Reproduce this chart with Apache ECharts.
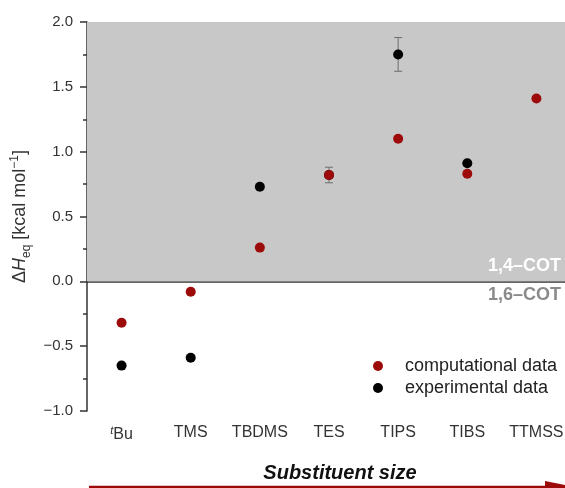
<!DOCTYPE html>
<html>
<head>
<meta charset="utf-8">
<script src="https://cdn.jsdelivr.net/npm/echarts@6/dist/echarts.min.js"></script>
<style>
  html, body { margin: 0; padding: 0; background: #fff; }
  #chart { width: 565px; height: 488px; }
</style>
</head>
<body>
<div id="chart"></div>
<script>
// Substituents, ordered by increasing size
const substituents = ['tBu', 'TMS', 'TBDMS', 'TES', 'TIPS', 'TIBS', 'TTMSS'];
// Equilibrium enthalpy ΔH_eq in kcal/mol
const computational = [-0.32, -0.08, 0.26, 0.82, 1.10, 0.83, 1.41];
const experimental = [-0.65, -0.59, 0.73, 0.82, 1.75, 0.91, null];
// Experimental uncertainties (only where reported)
const experimentalError = [null, null, null, 0.06, 0.13, null, null];
const yTicks = [-1.0, -0.5, 0.0, 0.5, 1.0, 1.5, 2.0];

const FONT = '"Liberation Sans", Arial, Helvetica, sans-serif';
const RED = '#9c0a0a';
const GREY = '#c8c8c8';

const chart = echarts.init(document.getElementById('chart'));

const errorData = [];
experimental.forEach((v, i) => {
  if (v != null && experimentalError[i] != null) {
    errorData.push([i, v - experimentalError[i], v + experimentalError[i]]);
  }
});

chart.setOption({
  animation: false,
  textStyle: { fontFamily: FONT },
  grid: { left: 87, top: 22, bottom: 77, width: 484, outerBoundsMode: 'none', containLabel: false },
  xAxis: {
    type: 'category',
    data: substituents,
    boundaryGap: true,
    axisLine: { lineStyle: { color: '#333', width: 1.5 } },
    axisTick: { alignWithLabel: true, length: 6, lineStyle: { color: '#333', width: 1.5 } },
    axisLabel: {
      interval: 0,
      color: '#333', fontSize: 16, margin: 14,
      formatter: v => v === 'tBu' ? '{sup|t}{n|Bu}' : v,
      rich: {
        sup: { fontSize: 11, fontStyle: 'italic', verticalAlign: 'top', lineHeight: 18, color: '#333' },
        n: { fontSize: 16, verticalAlign: 'bottom', lineHeight: 18, color: '#333' }
      }
    },
    splitLine: { show: false }
  },
  yAxis: {
    type: 'value',
    min: yTicks[0],
    max: yTicks[yTicks.length - 1],
    interval: 0.5,
    axisLine: { show: true, lineStyle: { color: '#333', width: 1.5 } },
    axisTick: { show: true, length: 7, lineStyle: { color: '#333', width: 1.5 } },
    minorTick: { show: true, splitNumber: 2, length: 4, lineStyle: { color: '#333', width: 1.5 } },
    axisLabel: {
      color: '#333', fontSize: 15, margin: 14,
      formatter: v => v.toFixed(1).replace('-', '\u2212')
    },
    splitLine: { show: false },
    name: '{d|\u0394}{h|H}{sub|eq}{d| [kcal mol}{sup|\u22121}{d|]}',
    nameLocation: 'middle',
    nameGap: 54,
    nameRotate: 90,
    nameTextStyle: {
      rich: {
        d: { fontSize: 18, color: '#333', lineHeight: 24, verticalAlign: 'middle' },
        h: { fontSize: 18, color: '#333', fontStyle: 'italic', lineHeight: 24, verticalAlign: 'middle' },
        sub: { fontSize: 12, color: '#333', lineHeight: 24, verticalAlign: 'bottom' },
        sup: { fontSize: 12, color: '#333', lineHeight: 24, verticalAlign: 'top' }
      }
    }
  },
  legend: {
    orient: 'vertical',
    left: 368,
    top: 352,
    itemWidth: 10,
    itemHeight: 10,
    itemGap: 4,
    data: [
      { name: 'computational data', icon: 'circle' },
      { name: 'experimental data', icon: 'circle' }
    ],
    textStyle: { fontSize: 18, color: '#222', padding: [0, 0, 0, 17] }
  },
  series: [
    {
      // Shaded region for the 1,4-COT preferred range; label for 1,6-COT below zero
      type: 'line',
      data: [],
      silent: true,
      markArea: {
        silent: true,
        data: [
          [
            { yAxis: 0, itemStyle: { color: GREY },
              label: { show: true, position: 'insideBottomRight', color: '#fff', fontSize: 18, fontWeight: 'bold', offset: [-5, -1] },
              name: '1,4\u2013COT' },
            { yAxis: 2 }
          ],
          [
            { yAxis: -1, itemStyle: { color: 'rgba(0,0,0,0)' },
              label: { show: true, position: 'insideTopRight', color: '#8a8a8a', fontSize: 18, fontWeight: 'bold', offset: [-5, 0] },
              name: '1,6\u2013COT' },
            { yAxis: 0 }
          ]
        ]
      },
      z: 0
    },
    {
      type: 'custom',
      name: 'error',
      data: errorData,
      z: 2,
      renderItem: (params, api) => {
        const x = api.value(0);
        const lo = api.coord([x, api.value(1)]);
        const hi = api.coord([x, api.value(2)]);
        const cap = 4;
        const style = { stroke: '#6e6e6e', lineWidth: 1 };
        return {
          type: 'group',
          children: [
            { type: 'line', shape: { x1: lo[0], y1: lo[1], x2: hi[0], y2: hi[1] }, style },
            { type: 'line', shape: { x1: lo[0] - cap, y1: lo[1], x2: lo[0] + cap, y2: lo[1] }, style },
            { type: 'line', shape: { x1: hi[0] - cap, y1: hi[1], x2: hi[0] + cap, y2: hi[1] }, style }
          ]
        };
      }
    },
    {
      type: 'scatter',
      name: 'experimental data',
      data: experimental,
      symbolSize: 10,
      itemStyle: { color: '#000', opacity: 1 },
      z: 3
    },
    {
      type: 'scatter',
      name: 'computational data',
      data: computational,
      symbolSize: 10,
      itemStyle: { color: RED, opacity: 1 },
      z: 4
    }
  ],
  graphic: [
    {
      type: 'text',
      x: 340,
      y: 473,
      style: { text: 'Substituent size', font: 'italic bold 20px ' + FONT, fill: '#111', align: 'center', verticalAlign: 'middle' }
    },
    {
      type: 'line',
      shape: { x1: 89, y1: 487, x2: 555, y2: 487 },
      style: { stroke: RED, lineWidth: 2.5 }
    },
    {
      type: 'polygon',
      shape: { points: [[545, 481], [575, 487], [545, 493]] },
      style: { fill: RED }
    }
  ]
});
</script>
</body>
</html>
